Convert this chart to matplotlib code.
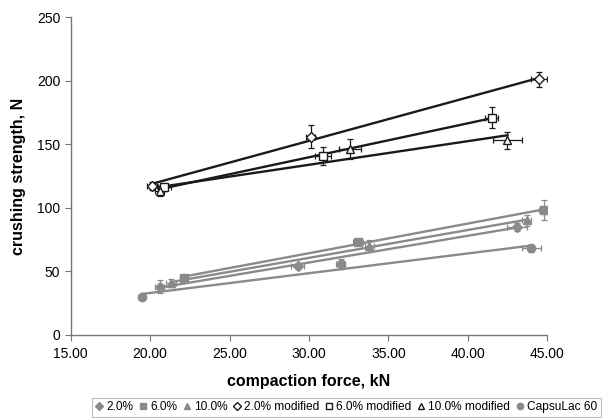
import matplotlib
matplotlib.use("Agg")
import matplotlib.pyplot as plt
import numpy as np
from matplotlib.ticker import FormatStrFormatter

plt.rcParams['font.family'] = ['Liberation Sans', 'DejaVu Sans']

GRAY = '#8a8a8a'
BLACK = '#1a1a1a'

# series data: compaction force (kN), crushing strength (N), error bars
SERIES = ['2.0%', '6.0%', '10.0%', '2.0% modified', '6.0% modified', '10.0% modified', 'CapsuLac 60']
MARKERS = ['D', 's', '^', 'D', 's', '^', 'o']
FILLED = [True, True, True, False, False, False, True]

X_VALS = [
    [20.6, 29.3, 43.1],
    [22.1, 33.1, 44.8],
    [21.3, 33.8, 43.7],
    [20.1, 30.1, 44.5],
    [20.9, 30.9, 41.5],
    [20.6, 32.6, 42.5],
    [19.5, 32.0, 44.0],
]
Y_VALS = [
    [38, 54, 85],
    [45, 73, 98],
    [41, 70, 90],
    [117, 156, 201],
    [116, 141, 171],
    [113, 146, 153],
    [30, 56, 68],
]
X_ERR = [
    [0.3, 0.4, 0.6],
    [0.2, 0.3, 0.3],
    [0.3, 0.3, 0.3],
    [0.3, 0.3, 0.5],
    [0.4, 0.5, 0.4],
    [0.3, 0.7, 0.9],
    [0.1, 0.3, 0.6],
]
Y_ERR = [
    [5, 2, 3],
    [2, 2, 8],
    [3, 5, 4],
    [3, 9, 6],
    [3, 7, 8],
    [4, 8, 7],
    [1, 4, 3],
]

fig = plt.figure(figsize=(6.10, 4.18), dpi=100)
ax = fig.add_axes([0.116, 0.199, 0.781, 0.760])

for i, name in enumerate(SERIES):
    x = np.array(X_VALS[i])
    y = np.array(Y_VALS[i])
    col = GRAY if FILLED[i] else BLACK
    face = col if FILLED[i] else 'white'
    #linear trend line over the data range
    k, b = np.polyfit(x, y, 1)
    xs = np.array([x.min(), x.max()])
    ax.plot(xs, k*xs + b, color=col, lw=1.7, zorder=2)
    ax.errorbar(x, y, xerr=X_ERR[i], yerr=Y_ERR[i], fmt='none', ecolor=col,
                elinewidth=0.9, capsize=2.5, capthick=0.9, zorder=3)
    ax.plot(x, y, ls='none', marker=MARKERS[i], ms=6 if MARKERS[i] != 'D' else 5,
            mfc=face, mec=col, mew=1.0, label=name, zorder=4)

ax.set_xlim(15, 45)
ax.set_ylim(0, 250)
ax.set_xticks(np.arange(15, 46, 5))
ax.set_yticks(np.arange(0, 251, 50))
ax.xaxis.set_major_formatter(FormatStrFormatter('%.2f'))
for s in ['top', 'right']:
    ax.spines[s].set_visible(False)
for s in ['left', 'bottom']:
    ax.spines[s].set_color('#777777')
    ax.spines[s].set_linewidth(1.0)
ax.tick_params(axis='both', colors='#777777', labelcolor='black', labelsize=10, length=4)
ax.tick_params(axis='x', pad=5)
ax.set_xlabel('compaction force, kN', fontsize=11.5, fontweight='bold', labelpad=9)
ax.set_ylabel('crushing strength, N', fontsize=11.5, fontweight='bold', labelpad=8)

leg = fig.legend(loc='lower center', bbox_to_anchor=(0.568, -0.012), ncol=7, fontsize=8.6,
                 frameon=True, fancybox=False, edgecolor='#aaaaaa', handlelength=0.6,
                 handletextpad=0.3, columnspacing=0.5, borderpad=0.3, markerscale=0.75)
leg.get_frame().set_linewidth(0.8)

fig.savefig('out.png', dpi=100)
